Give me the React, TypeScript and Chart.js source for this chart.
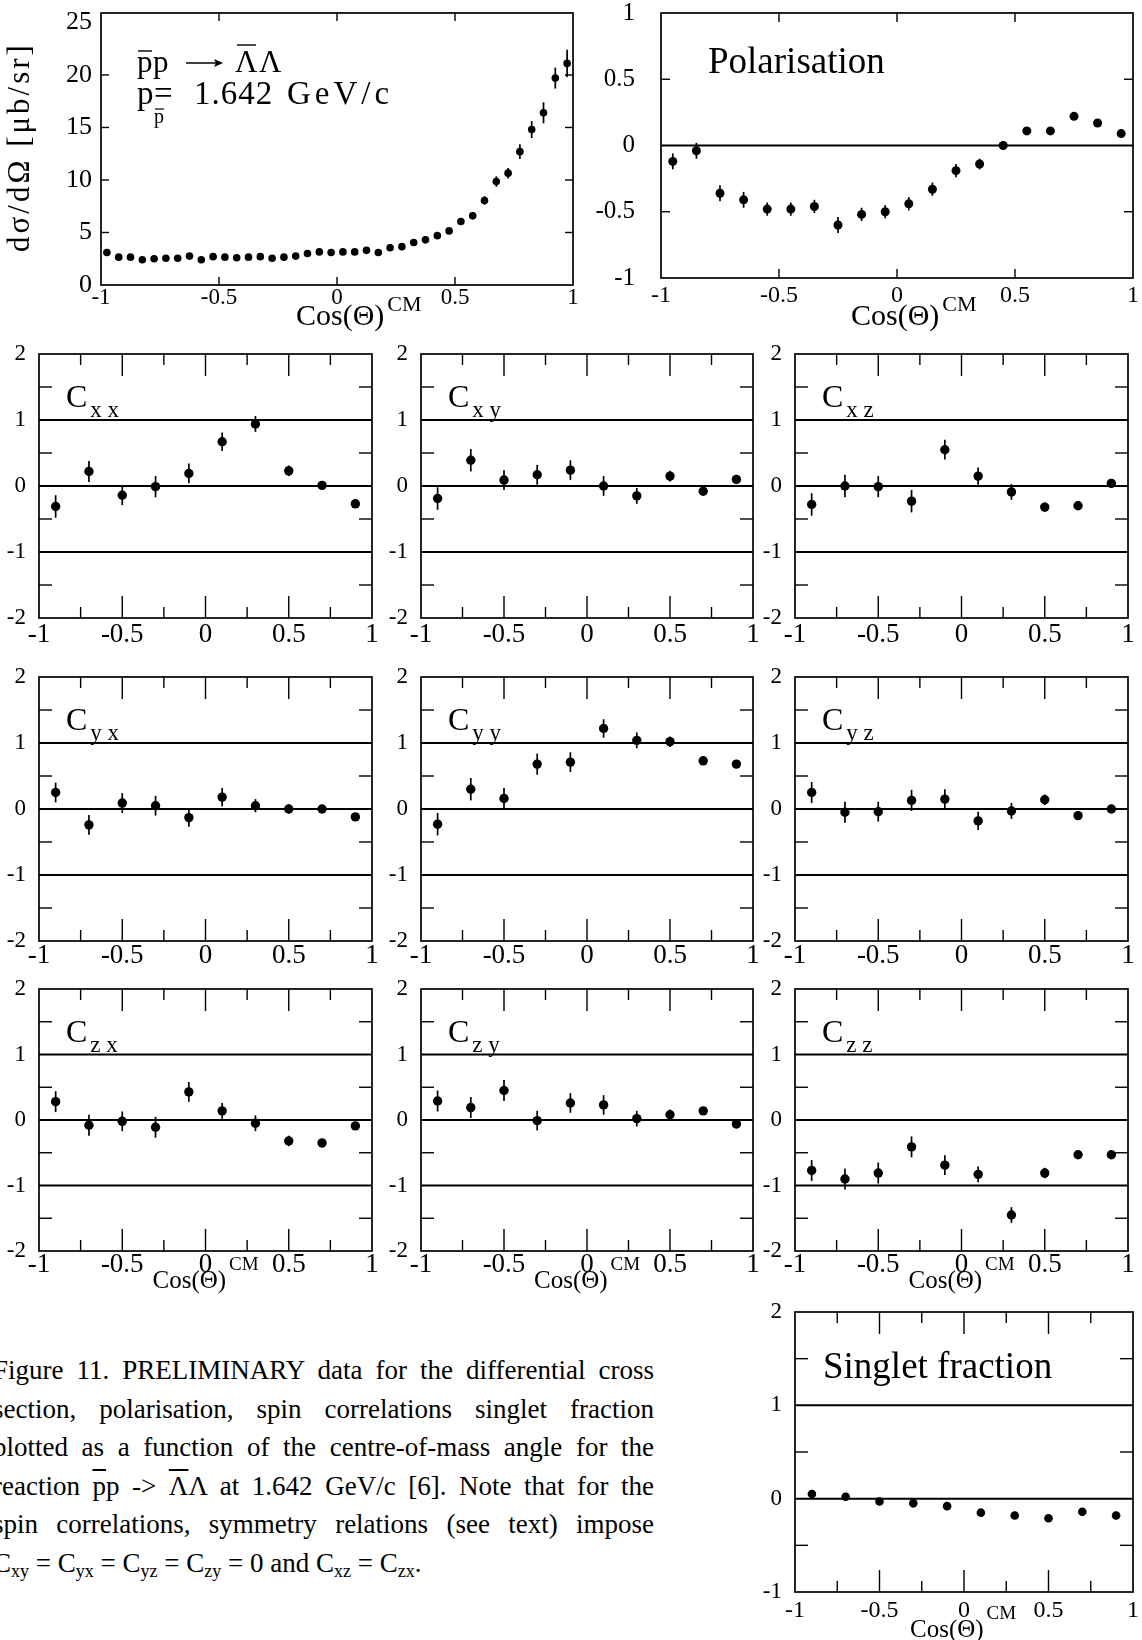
import React, { useEffect, useRef } from 'react';
import { Chart, registerables } from 'chart.js';

Chart.register(...registerables);

const SERIF = '"Liberation Serif", "Times New Roman", Times, serif';
const font = (size: number) => `${size}px ${SERIF}`;

// ---------------- Data ----------------
const SIGMA_X = [-0.975, -0.925, -0.875, -0.825, -0.775, -0.725, -0.675, -0.625, -0.575, -0.525,
  -0.475, -0.425, -0.375, -0.325, -0.275, -0.225, -0.175, -0.125, -0.075, -0.025,
  0.025, 0.075, 0.125, 0.175, 0.225, 0.275, 0.325, 0.375, 0.425, 0.475,
  0.525, 0.575, 0.625, 0.675, 0.725, 0.775, 0.825, 0.875, 0.925, 0.975];
const SIGMA_Y = [3.1, 2.65, 2.65, 2.4, 2.5, 2.55, 2.55, 2.75, 2.4, 2.7,
  2.65, 2.6, 2.65, 2.7, 2.55, 2.65, 2.75, 3.0, 3.15, 3.1,
  3.15, 3.15, 3.3, 3.1, 3.55, 3.65, 4.05, 4.3, 4.7, 5.15,
  6.05, 6.6, 8.05, 9.85, 10.65, 12.7, 14.8, 16.4, 19.7, 21.1];
const SIGMA_ERR = [0.2, 0.2, 0.2, 0.2, 0.2, 0.2, 0.2, 0.2, 0.2, 0.2,
  0.2, 0.2, 0.2, 0.2, 0.2, 0.2, 0.2, 0.2, 0.2, 0.2,
  0.2, 0.2, 0.2, 0.2, 0.2, 0.25, 0.25, 0.25, 0.3, 0.3,
  0.3, 0.35, 0.4, 0.5, 0.5, 0.7, 0.8, 1.0, 1.0, 1.3];

const POL_X = [-0.95, -0.85, -0.75, -0.65, -0.55, -0.45, -0.35, -0.25, -0.15, -0.05,
  0.05, 0.15, 0.25, 0.35, 0.45, 0.55, 0.65, 0.75, 0.85, 0.95];
const POL_Y = [-0.12, -0.04, -0.36, -0.41, -0.48, -0.48, -0.46, -0.6, -0.52, -0.5,
  -0.44, -0.33, -0.19, -0.14, 0.0, 0.11, 0.11, 0.22, 0.17, 0.09];
const POL_ERR = [0.06, 0.06, 0.06, 0.06, 0.05, 0.05, 0.05, 0.06, 0.05, 0.05,
  0.05, 0.05, 0.05, 0.04, 0.03, 0.03, 0.02, 0.02, 0.02, 0.02];

const CORR_X = [-0.9, -0.7, -0.5, -0.3, -0.1, 0.1, 0.3, 0.5, 0.7, 0.9];
const CXX = [-0.31, 0.22, -0.14, -0.01, 0.19, 0.67, 0.94, 0.23, 0.01, -0.27];
const CXX_ERR = [0.17, 0.16, 0.15, 0.16, 0.15, 0.14, 0.12, 0.08, 0.05, 0.05];
const CXY = [-0.19, 0.39, 0.09, 0.17, 0.24, 0.0, -0.15, 0.15, -0.08, 0.1];
const CXY_ERR = [0.17, 0.17, 0.15, 0.15, 0.15, 0.15, 0.12, 0.08, 0.06, 0.06];
const CXZ = [-0.28, 0.0, -0.01, -0.23, 0.55, 0.15, -0.09, -0.32, -0.3, 0.04];
const CXZ_ERR = [0.17, 0.17, 0.16, 0.17, 0.15, 0.13, 0.12, 0.07, 0.05, 0.05];
const CYX = [0.25, -0.24, 0.09, 0.05, -0.13, 0.18, 0.05, 0.0, 0.0, -0.12];
const CYX_ERR = [0.15, 0.15, 0.15, 0.15, 0.14, 0.14, 0.1, 0.07, 0.05, 0.05];
const CYY = [-0.23, 0.3, 0.16, 0.68, 0.71, 1.22, 1.04, 1.02, 0.73, 0.68];
const CYY_ERR = [0.17, 0.17, 0.16, 0.16, 0.15, 0.14, 0.12, 0.08, 0.05, 0.05];
const CYZ = [0.25, -0.05, -0.04, 0.13, 0.15, -0.18, -0.03, 0.14, -0.1, 0.0];
const CYZ_ERR = [0.16, 0.16, 0.15, 0.16, 0.15, 0.14, 0.12, 0.08, 0.05, 0.05];
const CZX = [0.28, -0.08, -0.02, -0.11, 0.43, 0.14, -0.05, -0.32, -0.35, -0.09];
const CZX_ERR = [0.16, 0.16, 0.15, 0.16, 0.15, 0.12, 0.12, 0.08, 0.05, 0.05];
const CZY = [0.29, 0.19, 0.45, -0.01, 0.26, 0.23, 0.02, 0.08, 0.14, -0.06];
const CZY_ERR = [0.16, 0.16, 0.16, 0.15, 0.15, 0.15, 0.12, 0.08, 0.05, 0.05];
const CZZ = [-0.77, -0.9, -0.81, -0.41, -0.69, -0.83, -1.45, -0.81, -0.53, -0.53];
const CZZ_ERR = [0.16, 0.16, 0.16, 0.16, 0.15, 0.12, 0.12, 0.08, 0.05, 0.05];
const SINGLET = [0.05, 0.02, -0.03, -0.05, -0.08, -0.15, -0.18, -0.21, -0.14, -0.18];
const SINGLET_ERR = [0.04, 0.04, 0.04, 0.04, 0.04, 0.04, 0.04, 0.04, 0.04, 0.04];

// ---------------- Ticks ----------------
const X_TICK_VALUES = [-1, -0.5, 0, 0.5, 1];
const X_TICK_LABELS = ['-1', '-0.5', '0', '0.5', '1'];
const SIGMA_Y_TICKS = [0, 5, 10, 15, 20, 25];
const SIGMA_Y_LABELS = ['0', '5', '10', '15', '20', '25'];
const POL_Y_TICKS = [-1, -0.5, 0, 0.5, 1];
const POL_Y_LABELS = ['-1', '-0.5', '0', '0.5', '1'];
const CORR_Y_TICKS = [-2, -1, 0, 1, 2];
const CORR_Y_LABELS = ['-2', '-1', '0', '1', '2'];
const SINGLET_Y_TICKS = [-1, 0, 1, 2];
const SINGLET_Y_LABELS = ['-1', '0', '1', '2'];
const CORR_X_MAJOR = [-0.5, 0, 0.5];
const CORR_X_MINOR = [-0.75, -0.25, 0.25, 0.75];

// ---------------- Panel spec ----------------
type Area = { left: number; top: number; right: number; bottom: number };
interface CosSpec { offset: number; base: number; cmBase: number; size: number; cmSize: number }
interface PanelSpec {
  key: string;
  frame: Area;
  pad: { l: number; t: number; r: number; b: number };
  xs: number[]; ys: number[]; errs: number[];
  yMin: number; yMax: number;
  yTicks: number[]; yLabels: string[];
  yFont: number; yGap: number;
  xFont: number; xLabelCenter: number;
  refLines: number[];
  xMajor: number[]; xMinor: number[]; xMajorLen: number; xMinorLen: number;
  yInner: number[]; yInnerLen: number;
  radius: number;
  cos?: CosSpec;
  label?: (ctx: CanvasRenderingContext2D, a: Area) => void;
}

function setSpacing(ctx: CanvasRenderingContext2D, px: number) {
  try { (ctx as any).letterSpacing = `${px}px`; } catch (e) { /* ignore */ }
}

function cLabel(sub: string) {
  return (ctx: CanvasRenderingContext2D, a: Area) => {
    ctx.font = font(32);
    ctx.fillText('C', a.left + 27, a.top + 53);
    const w = ctx.measureText('C').width;
    ctx.font = font(23);
    ctx.fillText(sub, a.left + 27 + w + 3, a.top + 63);
  };
}

function hline(ctx: CanvasRenderingContext2D, x1: number, x2: number, y: number, w = 1.4) {
  ctx.save();
  ctx.lineWidth = w;
  ctx.beginPath();
  ctx.moveTo(x1, y);
  ctx.lineTo(x2, y);
  ctx.stroke();
  ctx.restore();
}

function sigmaLabel(ctx: CanvasRenderingContext2D, a: Area) {
  const x0 = a.left + 36;
  const b1 = a.top + 59;
  ctx.font = font(31);
  ctx.fillText('p', x0, b1);
  hline(ctx, x0 + 1, x0 + 15, b1 - 21);
  ctx.fillText('p', x0 + 16, b1);
  // arrow
  const ay = b1 - 9;
  ctx.save();
  ctx.lineWidth = 1.4;
  ctx.beginPath();
  ctx.moveTo(x0 + 49, ay);
  ctx.lineTo(x0 + 84, ay);
  ctx.stroke();
  ctx.beginPath();
  ctx.moveTo(x0 + 86, ay);
  ctx.lineTo(x0 + 77, ay - 4);
  ctx.lineTo(x0 + 79, ay);
  ctx.lineTo(x0 + 77, ay + 4);
  ctx.closePath();
  ctx.fill();
  ctx.restore();
  ctx.fillText('\u039B', x0 + 98, b1);
  hline(ctx, x0 + 100, x0 + 119, b1 - 27);
  ctx.fillText('\u039B', x0 + 122, b1);
  // line 2
  const b2 = a.top + 91;
  ctx.font = font(33);
  ctx.fillText('p', x0, b2);
  ctx.font = font(20);
  ctx.fillText('p', x0 + 17, b2 + 19);
  hline(ctx, x0 + 18, x0 + 27, b2 + 5, 1.2);
  ctx.font = font(33);
  ctx.fillText('=', x0 + 17, b2);
  setSpacing(ctx, 1);
  ctx.fillText('1.642', x0 + 57, b2);
  setSpacing(ctx, 4);
  ctx.fillText('GeV/c', x0 + 150, b2);
  setSpacing(ctx, 0);
  // y axis title
  ctx.save();
  ctx.translate(a.left - 80, a.top + 134);
  ctx.rotate(-Math.PI / 2);
  ctx.textAlign = 'center';
  ctx.textBaseline = 'middle';
  ctx.font = font(31);
  setSpacing(ctx, 3);
  ctx.fillText('d\u03C3/d\u03A9 [\u03BCb/sr]', 0, 0);
  ctx.restore();
}

function textLabel(text: string, dx: number, dy: number, size: number) {
  return (ctx: CanvasRenderingContext2D, a: Area) => {
    ctx.font = font(size);
    ctx.fillText(text, a.left + dx, a.top + dy);
  };
}

const ROW_T = [354, 677, 989];
const ROW_B = [618, 941, 1251];
const ROW_XLABEL_CENTER = [17, 15, 14];
const COL_L = [39, 421, 795];
const COL_R = [372, 753, 1128];

const CORR_SERIES: { key: string; sub: string; ys: number[]; errs: number[] }[][] = [
  [
    { key: 'cxx', sub: 'x x', ys: CXX, errs: CXX_ERR },
    { key: 'cxy', sub: 'x y', ys: CXY, errs: CXY_ERR },
    { key: 'cxz', sub: 'x z', ys: CXZ, errs: CXZ_ERR },
  ],
  [
    { key: 'cyx', sub: 'y x', ys: CYX, errs: CYX_ERR },
    { key: 'cyy', sub: 'y y', ys: CYY, errs: CYY_ERR },
    { key: 'cyz', sub: 'y z', ys: CYZ, errs: CYZ_ERR },
  ],
  [
    { key: 'czx', sub: 'z x', ys: CZX, errs: CZX_ERR },
    { key: 'czy', sub: 'z y', ys: CZY, errs: CZY_ERR },
    { key: 'czz', sub: 'z z', ys: CZZ, errs: CZZ_ERR },
  ],
];

const SPECS: PanelSpec[] = [];

SPECS.push({
  key: 'sigma',
  frame: { left: 101, top: 13, right: 573, bottom: 285 },
  pad: { l: 101, t: 13, r: 16, b: 52 },
  xs: SIGMA_X, ys: SIGMA_Y, errs: SIGMA_ERR,
  yMin: 0, yMax: 25.9,
  yTicks: SIGMA_Y_TICKS, yLabels: SIGMA_Y_LABELS,
  yFont: 26, yGap: 9,
  xFont: 23, xLabelCenter: 13,
  refLines: [],
  xMajor: [-0.5, 0, 0.5], xMinor: [], xMajorLen: 8, xMinorLen: 0,
  yInner: [5, 10, 15, 20], yInnerLen: 8,
  radius: 3.8,
  cos: { offset: -41, base: 40, cmBase: 26, size: 30, cmSize: 22 },
  label: sigmaLabel,
});

SPECS.push({
  key: 'pol',
  frame: { left: 661, top: 13, right: 1133, bottom: 278 },
  pad: { l: 90, t: 13, r: 9, b: 62 },
  xs: POL_X, ys: POL_Y, errs: POL_ERR,
  yMin: -1, yMax: 1,
  yTicks: POL_Y_TICKS, yLabels: POL_Y_LABELS,
  yFont: 25, yGap: 26,
  xFont: 24, xLabelCenter: 18,
  refLines: [0],
  xMajor: [-0.5, 0, 0.5], xMinor: [], xMajorLen: 9, xMinorLen: 0,
  yInner: [-0.5, 0.5], yInnerLen: 9,
  radius: 4.5,
  cos: { offset: -46, base: 47, cmBase: 33, size: 30, cmSize: 22 },
  label: textLabel('Polarisation', 47, 60, 37),
});

CORR_SERIES.forEach((row, ri) => {
  row.forEach((s, ci) => {
    SPECS.push({
      key: s.key,
      frame: { left: COL_L[ci], top: ROW_T[ri], right: COL_R[ci], bottom: ROW_B[ri] },
      pad: { l: 39, t: 14, r: 14, b: ri === 2 ? 50 : 36 },
      xs: CORR_X, ys: s.ys, errs: s.errs,
      yMin: -2, yMax: 2,
      yTicks: CORR_Y_TICKS, yLabels: CORR_Y_LABELS,
      yFont: 23, yGap: 13,
      xFont: 27, xLabelCenter: ROW_XLABEL_CENTER[ri],
      refLines: [-1, 0, 1],
      xMajor: CORR_X_MAJOR, xMinor: CORR_X_MINOR, xMajorLen: 22, xMinorLen: 11,
      yInner: [-1.5, -0.5, 0.5, 1.5], yInnerLen: 13,
      radius: 4.7,
      cos: ri === 2 ? { offset: -53, base: 37, cmBase: 19, size: 25, cmSize: 19 } : undefined,
      label: cLabel(s.sub),
    });
  });
});

SPECS.push({
  key: 'singlet',
  frame: { left: 795, top: 1312, right: 1133, bottom: 1592 },
  pad: { l: 39, t: 14, r: 9, b: 48 },
  xs: CORR_X, ys: SINGLET, errs: SINGLET_ERR,
  yMin: -1, yMax: 2,
  yTicks: SINGLET_Y_TICKS, yLabels: SINGLET_Y_LABELS,
  yFont: 23, yGap: 13,
  xFont: 24, xLabelCenter: 19,
  refLines: [0, 1],
  xMajor: CORR_X_MAJOR, xMinor: CORR_X_MINOR, xMajorLen: 22, xMinorLen: 11,
  yInner: [-0.5, 0.5, 1.5], yInnerLen: 13,
  radius: 4.3,
  cos: { offset: -54, base: 45, cmBase: 27, size: 25, cmSize: 19 },
  label: textLabel('Singlet fraction', 28, 66, 37),
});

// ---------------- Drawing plugin ----------------
function framePlugin(spec: PanelSpec) {
  return {
    id: 'frame_' + spec.key,
    beforeDatasetsDraw(chart: any) {
      const { ctx, chartArea: a, scales } = chart;
      const sx = scales.x;
      const sy = scales.y;
      const line = (x1: number, y1: number, x2: number, y2: number) => {
        ctx.beginPath();
        ctx.moveTo(x1, y1);
        ctx.lineTo(x2, y2);
        ctx.stroke();
      };
      ctx.save();
      ctx.strokeStyle = '#000';
      ctx.lineCap = 'butt';
      // reference lines
      ctx.lineWidth = 2;
      spec.refLines.forEach((v) => {
        const y = sy.getPixelForValue(v);
        line(a.left, y, a.right, y);
      });
      // frame
      ctx.lineWidth = 1.7;
      ctx.strokeRect(a.left, a.top, a.right - a.left, a.bottom - a.top);
      // inward ticks
      ctx.lineWidth = 1.4;
      spec.xMajor.forEach((v) => {
        const x = sx.getPixelForValue(v);
        line(x, a.bottom, x, a.bottom - spec.xMajorLen);
        line(x, a.top, x, a.top + spec.xMajorLen);
      });
      spec.xMinor.forEach((v) => {
        const x = sx.getPixelForValue(v);
        line(x, a.bottom, x, a.bottom - spec.xMinorLen);
        line(x, a.top, x, a.top + spec.xMinorLen);
      });
      spec.yInner.forEach((v) => {
        const y = sy.getPixelForValue(v);
        line(a.left, y, a.left + spec.yInnerLen, y);
        line(a.right, y, a.right - spec.yInnerLen, y);
      });
      // error bars
      ctx.lineWidth = 1.7;
      spec.xs.forEach((x, i) => {
        const px = sx.getPixelForValue(x);
        line(px, sy.getPixelForValue(spec.ys[i] - spec.errs[i]), px, sy.getPixelForValue(spec.ys[i] + spec.errs[i]));
      });
      ctx.restore();
    },
    afterDatasetsDraw(chart: any) {
      const { ctx, chartArea: a, scales } = chart;
      ctx.save();
      ctx.fillStyle = '#000';
      ctx.strokeStyle = '#000';
      ctx.textAlign = 'left';
      ctx.textBaseline = 'alphabetic';
      if (spec.label) spec.label(ctx, a);
      if (spec.cos) {
        const c = spec.cos;
        const x0 = scales.x.getPixelForValue(0) + c.offset;
        ctx.font = font(c.size);
        ctx.fillText('Cos(\u0398)', x0, a.bottom + c.base);
        const w = ctx.measureText('Cos(\u0398)').width;
        ctx.font = font(c.cmSize);
        ctx.fillText('CM', x0 + w + 3, a.bottom + c.cmBase);
      }
      ctx.restore();
    },
  };
}

function Panel({ spec }: { spec: PanelSpec }) {
  const ref = useRef<HTMLCanvasElement>(null);
  const f = spec.frame;
  const p = spec.pad;
  const W = f.right - f.left + p.l + p.r;
  const H = f.bottom - f.top + p.t + p.b;
  useEffect(() => {
    if (!ref.current) return;
    const chart = new Chart(ref.current, {
      type: 'scatter',
      data: {
        datasets: [{
          data: spec.xs.map((x, i) => ({ x, y: spec.ys[i] })),
          pointRadius: spec.radius,
          pointHoverRadius: spec.radius,
          pointBackgroundColor: '#000',
          pointBorderColor: '#000',
          pointBorderWidth: 0,
          showLine: false,
        }],
      },
      options: {
        animation: false,
        responsive: false,
        devicePixelRatio: 1,
        events: [],
        layout: { autoPadding: false, padding: { left: 0, top: p.t, right: p.r, bottom: 0 } },
        plugins: { legend: { display: false }, tooltip: { enabled: false }, title: { display: false } },
        scales: {
          x: {
            type: 'linear',
            position: 'bottom',
            min: -1,
            max: 1,
            afterBuildTicks: (s: any) => { s.ticks = X_TICK_VALUES.map((v) => ({ value: v })); },
            ticks: {
              callback: (_v: any, i: number) => X_TICK_LABELS[i],
              font: { family: SERIF, size: spec.xFont },
              color: '#000',
              padding: spec.xLabelCenter - spec.xFont * 0.6,
              maxRotation: 0,
              minRotation: 0,
              autoSkip: false,
            },
            grid: { display: false, drawTicks: false, tickLength: 0 },
            border: { display: false },
            afterFit: (s: any) => {
              s.height = p.b;
              s.paddingLeft = 0; s.paddingRight = 0; s.paddingTop = 0; s.paddingBottom = 0;
            },
          },
          y: {
            type: 'linear',
            position: 'left',
            min: spec.yMin,
            max: spec.yMax,
            afterBuildTicks: (s: any) => { s.ticks = spec.yTicks.map((v) => ({ value: v })); },
            ticks: {
              callback: (_v: any, i: number) => spec.yLabels[i],
              font: { family: SERIF, size: spec.yFont },
              color: '#000',
              padding: spec.yGap,
              autoSkip: false,
            },
            grid: { display: false, drawTicks: false, tickLength: 0 },
            border: { display: false },
            afterFit: (s: any) => {
              s.width = p.l;
              s.paddingLeft = 0; s.paddingRight = 0; s.paddingTop = 0; s.paddingBottom = 0;
            },
          },
        },
      } as any,
      plugins: [framePlugin(spec)],
    });
    return () => chart.destroy();
  }, [spec]);
  return (
    <canvas
      ref={ref}
      width={W}
      height={H}
      style={{ position: 'absolute', left: f.left - p.l, top: f.top - p.t, width: W, height: H }}
    />
  );
}

// ---------------- Caption ----------------
const OL = ({ children }: { children: React.ReactNode }) => (
  <span style={{ textDecoration: 'overline' }}>{children}</span>
);
const SUB = ({ children }: { children: React.ReactNode }) => (
  <sub style={{ fontSize: '18px', verticalAlign: '-5px', lineHeight: 0 }}>{children}</sub>
);

const CAPTION_LINES: React.ReactNode[] = [
  'Figure 11. PRELIMINARY data for the differential cross',
  'section, polarisation, spin correlations singlet fraction',
  'plotted as a function of the centre-of-mass angle for the',
  <>reaction <OL>p</OL>p -&gt; <OL>{'\u039B'}</OL>{'\u039B'} at 1.642 GeV/c [6]. Note that for the</>,
  'spin correlations, symmetry relations (see text) impose',
  <>C<SUB>xy</SUB> = C<SUB>yx</SUB> = C<SUB>yz</SUB> = C<SUB>zy</SUB> = 0 and C<SUB>xz</SUB> = C<SUB>zx</SUB>.</>,
];

export default function App() {
  return (
    <div
      style={{
        position: 'absolute', left: 0, top: 0, width: 1142, height: 1640,
        background: '#fff', overflow: 'hidden', color: '#000',
      }}
    >
      {SPECS.map((s) => <Panel key={s.key} spec={s} />)}
      <div style={{ position: 'absolute', left: -7, top: 1351, width: 661, font: font(27) }}>
        {CAPTION_LINES.map((line, i) => (
          <div
            key={i}
            style={{
              height: 38.5, lineHeight: '38.5px', whiteSpace: 'nowrap',
              textAlign: i === CAPTION_LINES.length - 1 ? 'left' : 'justify',
              textAlignLast: i === CAPTION_LINES.length - 1 ? 'left' : 'justify',
            } as any}
          >
            {line}
          </div>
        ))}
      </div>
    </div>
  );
}
